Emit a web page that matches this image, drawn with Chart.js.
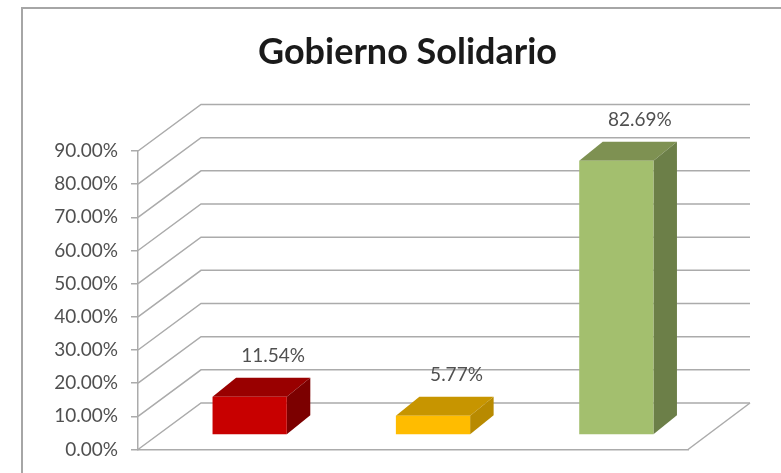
<!DOCTYPE html>
<html>
<head>
<meta charset="utf-8">
<style>
html,body{margin:0;padding:0;background:#fff;width:781px;height:473px;overflow:hidden}
#wrap{position:absolute;left:0;top:0;width:781px;height:473px}
#frame{position:absolute;left:21px;top:7px;width:800px;height:500px;border:2px solid #a6a6a6;box-sizing:border-box}
canvas{position:absolute;left:0;top:0;filter:blur(0.5px)}
</style>
<script src="https://cdn.jsdelivr.net/npm/chart.js@4/dist/chart.umd.min.js"></script>
</head>
<body>
<div id="wrap"><div id="frame"></div><canvas id="c" width="781" height="473"></canvas></div>
<script>
const categories = ["Malo", "Regular", "Bueno"];
const seriesValues = [11.54, 5.77, 82.69];
const titleText = "Gobierno Solidario";
const frontColors = ["#C80000", "#FFBC00", "#A3BF6E"];
const topColors = ["#990000", "#C79500", "#7E9152"];
const sideColors = ["#7C0000", "#B88A00", "#6C7F48"];

const labelFont = '19px Lato, "Open Sans", sans-serif';
const wallDx = 63, wallDy = -46.5;      // oblique depth of the floor
const barDx = 20, barDy = -14.5;        // bar placement on the floor
const depthDx = 23.5, depthDy = -19;    // depth of each bar
const wallRight = 750;

const wallPlugin = {
  id: "wall",
  afterLayout(chart) {
    // the title is centred on the frame, not on the plot
    chart.titleBlock.left = 34;
    chart.titleBlock.right = 781;
  },
  beforeDatasetsDraw(chart) {
    const {ctx, chartArea: a, scales: {y}} = chart;
    ctx.save();
    ctx.strokeStyle = "#ababab";
    ctx.lineWidth = 1.5;
    y.ticks.forEach(t => {
      const py = y.getPixelForValue(t.value);
      ctx.beginPath();
      ctx.moveTo(a.left, py);
      ctx.lineTo(a.left + wallDx, py + wallDy);
      ctx.lineTo(wallRight, py + wallDy);
      ctx.stroke();
    });
    const y0 = y.getPixelForValue(0);
    ctx.beginPath();
    ctx.moveTo(a.right, y0);
    ctx.lineTo(wallRight, y0 + wallDy);
    ctx.stroke();
    ctx.restore();
  },
  beforeDatasetDraw(chart) {
    const ctx = chart.ctx;
    const bars = chart.getDatasetMeta(0).data;
    ctx.save();
    ctx.translate(barDx, barDy);
    bars.forEach((b, i) => {
      const l = b.x - b.width / 2, r = b.x + b.width / 2, t = b.y, bt = b.base;
      ctx.fillStyle = topColors[i];
      ctx.beginPath();
      ctx.moveTo(l, t); ctx.lineTo(l + depthDx, t + depthDy);
      ctx.lineTo(r + depthDx, t + depthDy); ctx.lineTo(r, t);
      ctx.closePath(); ctx.fill();
      ctx.fillStyle = sideColors[i];
      ctx.beginPath();
      ctx.moveTo(r, t); ctx.lineTo(r + depthDx, t + depthDy);
      ctx.lineTo(r + depthDx, bt + depthDy); ctx.lineTo(r, bt);
      ctx.closePath(); ctx.fill();
    });
  },
  afterDatasetDraw(chart) {
    const ctx = chart.ctx;
    const bars = chart.getDatasetMeta(0).data;
    ctx.font = labelFont;
    ctx.fillStyle = "#505050";
    ctx.textAlign = "center";
    ctx.textBaseline = "middle";
    bars.forEach((b, i) => {
      ctx.fillText(seriesValues[i].toFixed(2) + "%", b.x + depthDx, b.y + depthDy - 22);
    });
    ctx.restore();
  }
};

new Chart(document.getElementById("c"), {
  type: "bar",
  data: {
    labels: categories,
    datasets: [{
      data: seriesValues,
      backgroundColor: frontColors,
      borderWidth: 0,
      categoryPercentage: 1,
      barPercentage: 0.405
    }]
  },
  plugins: [wallPlugin],
  options: {
    responsive: false,
    animation: false,
    layout: {padding: {left: 34, right: 93, top: 31, bottom: 23.5}},
    plugins: {
      legend: {display: false},
      tooltip: {enabled: false},
      title: {
        display: true,
        text: titleText,
        color: "#1a1a1a",
        font: {family: 'Lato, "Open Sans", sans-serif', size: 36, weight: "bold"},
        padding: {top: 0, bottom: 76.8}
      }
    },
    scales: {
      x: {
        afterFit(s) { s.height = 0; },
        grid: {display: false},
        border: {display: true, color: "#ababab", width: 1.5},
        ticks: {display: false}
      },
      y: {
        min: 0, max: 90,
        afterFit(s) { s.width = 104; s.paddingBottom = 0; s.paddingTop = 0; },
        grid: {drawOnChartArea: false, drawTicks: true, tickLength: 7, color: "#ababab", lineWidth: 1.5},
        border: {display: true, color: "#ababab", width: 1.5},
        ticks: {
          stepSize: 10,
          padding: 13,
          color: "#505050",
          font: {family: 'Lato, "Open Sans", sans-serif', size: 19},
          callback: v => v.toFixed(2) + "%"
        }
      }
    }
  }
});
</script>
</body>
</html>
